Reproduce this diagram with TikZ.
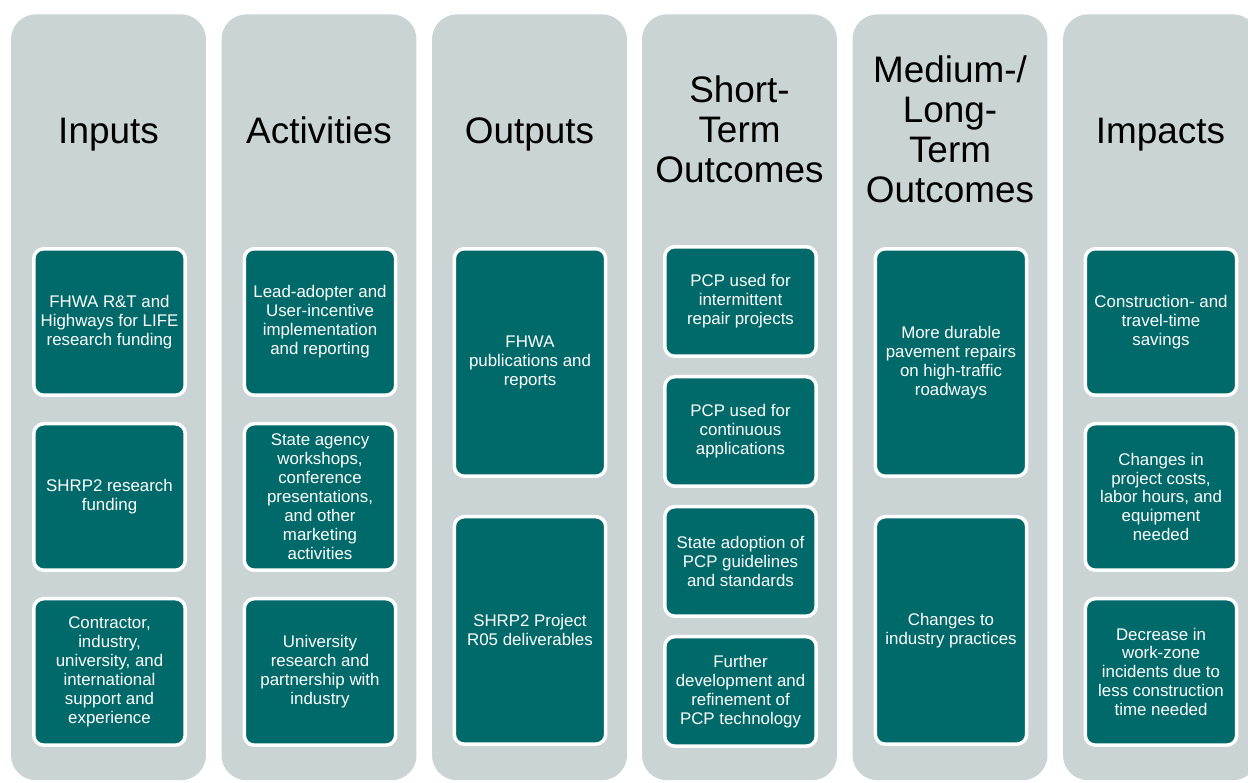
\documentclass[tikz,border=0pt]{standalone}
\usepackage{fontspec}
\setmainfont{Liberation Sans}
\usetikzlibrary{positioning}
\definecolor{lanegray}{RGB}{203,212,213}
\definecolor{boxteal}{RGB}{0,105,106}

\begin{document}
\begin{tikzpicture}[
    x=0.02cm, y=-0.02cm,
    lane/.style={fill=lanegray, rounded corners=0.5cm, minimum width=3.9cm, minimum height=15.32cm, anchor=north, inner sep=0pt},
    heading/.style={align=center, font=\fontsize{21}{22.7}\selectfont},
    item/.style={draw=white, fill=boxteal, line width=0.07cm, rounded corners=0.2cm, text=white, align=center, inner sep=0pt, minimum width=3.03cm, font=\fontsize{9.6}{10.8}\selectfont},
    tallbox/.style={item, minimum height=4.55cm},
    midbox/.style={item, minimum height=2.93cm},
    shortbox/.style={item, minimum height=2.19cm}
    ]
  \useasboundingbox[fill=white] (0,0) rectangle (1248,782);

  % lanes
  \node [lane] (lanein) at (108.5,14) {};
  \node [lane] (laneact) at (319,14) {};
  \node [lane] (laneout) at (529.5,14) {};
  \node [lane] (laneshort) at (739.5,14) {};
  \node [lane] (lanelong) at (950,14) {};
  \node [lane] (laneimp) at (1160.5,14) {};

  % headings
  \node [heading, anchor=base] (hin) at (108.5,143) {Inputs};
  \node [heading, anchor=base] (hact) at (319,143) {Activities};
  \node [heading, anchor=base] (hout) at (529.5,143) {Outputs};
  \node [heading] (hshort) at (739.5,129) {Short-\\Term\\Outcomes};
  \node [heading] (hlong) at (950,129) {Medium-/\\Long-\\Term\\Outcomes};
  \node [heading, anchor=base] (himp) at (1160.5,143) {Impacts};

  % inputs
  \node [midbox, anchor=north] (in1) at (109.5,247) {FHWA R\&T and\\Highways for LIFE\\research funding};
  \node [midbox, below=0.5cm of in1] (in2) {SHRP2 research\\funding};
  \node [midbox, below=0.5cm of in2] (in3) {Contractor,\\industry,\\university, and\\international\\support and\\experience};

  % activities
  \node [midbox, anchor=north] (act1) at (320,247) {Lead-adopter and\\User-incentive\\implementation\\and reporting};
  \node [midbox, below=0.5cm of act1] (act2) {State agency\\workshops,\\conference\\presentations,\\and other\\marketing\\activities};
  \node [midbox, below=0.5cm of act2] (act3) {University\\research and\\partnership with\\industry};

  % outputs
  \node [tallbox, anchor=north] (out1) at (530,247) {FHWA\\publications and\\reports};
  \node [tallbox, below=0.74cm of out1] (out2) {SHRP2 Project\\R05 deliverables};

  % short-term outcomes
  \node [shortbox, anchor=north] (st1) at (740.5,245) {PCP used for\\intermittent\\repair projects};
  \node [shortbox, below=0.34cm of st1] (st2) {PCP used for\\continuous\\applications};
  \node [shortbox, below=0.34cm of st2] (st3) {State adoption of\\PCP guidelines\\and standards};
  \node [shortbox, below=0.34cm of st3] (st4) {Further\\development and\\refinement of\\PCP technology};

  % medium-/long-term outcomes
  \node [tallbox, anchor=north] (lt1) at (951,247) {More durable\\pavement repairs\\on high-traffic\\roadways};
  \node [tallbox, below=0.74cm of lt1] (lt2) {Changes to\\industry practices};

  % impacts
  \node [midbox, anchor=north] (imp1) at (1161,247) {Construction- and\\travel-time\\savings};
  \node [midbox, below=0.5cm of imp1] (imp2) {Changes in\\project costs,\\labor hours, and\\equipment\\needed};
  \node [midbox, below=0.5cm of imp2] (imp3) {Decrease in\\work-zone\\incidents due to\\less construction\\time needed};
\end{tikzpicture}
\end{document}
